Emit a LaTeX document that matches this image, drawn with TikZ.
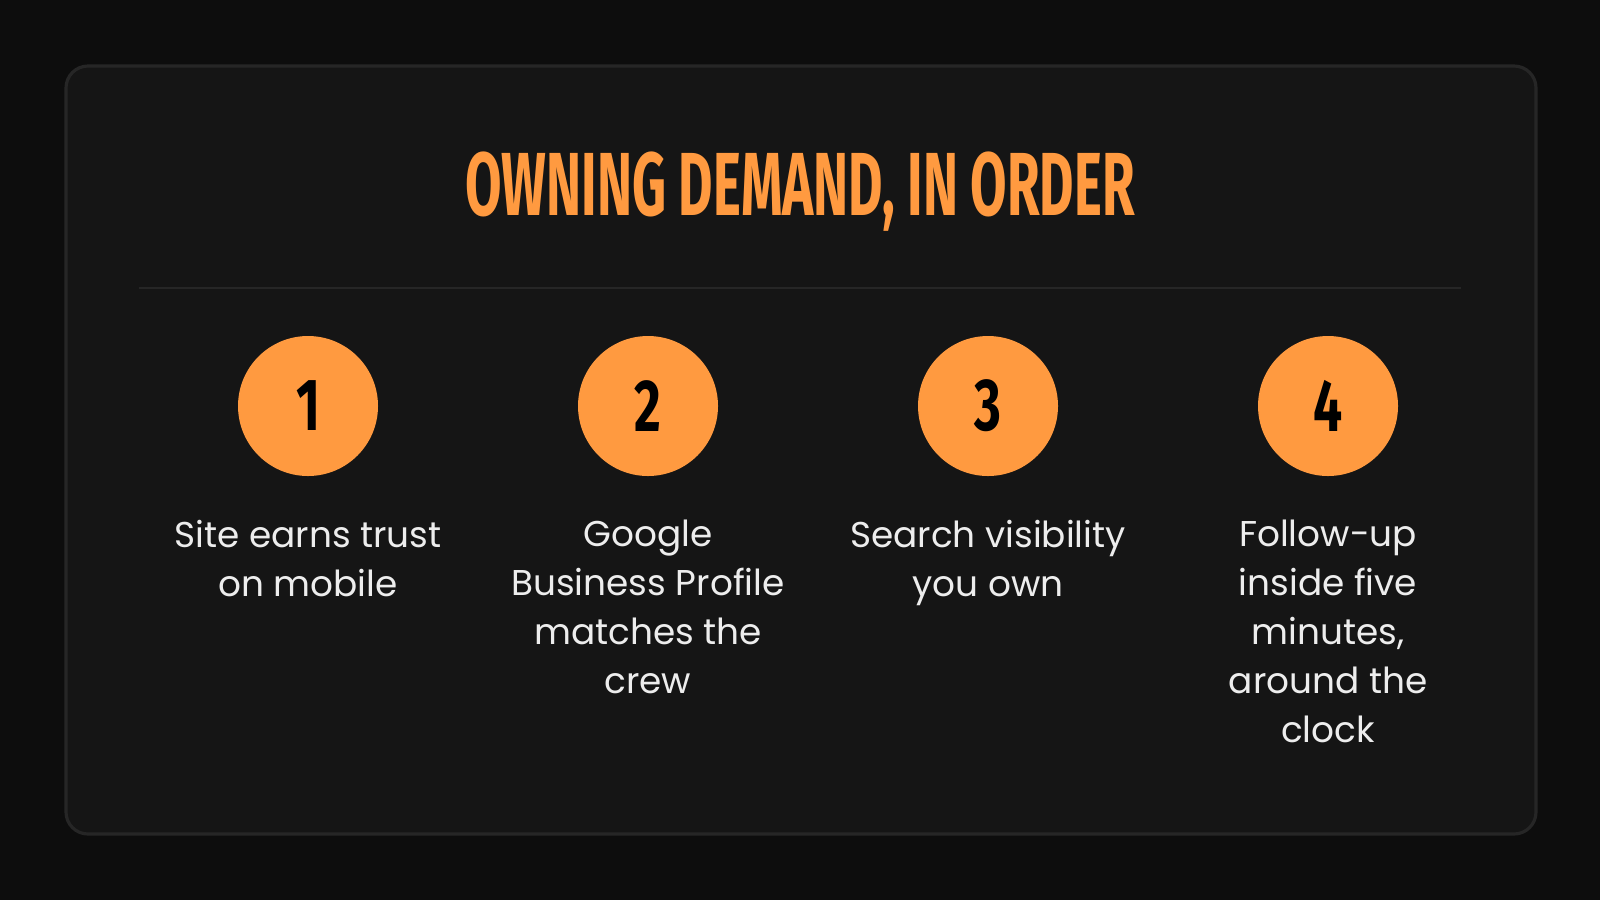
\documentclass[tikz,border=0pt]{standalone}
\usepackage{fontspec}
\setmainfont{Poppins}
\newfontfamily\titlefont[FakeStretch=0.59]{Fira Sans}
\newfontfamily\digitfont[FakeStretch=0.7]{Fira Sans}
\usetikzlibrary{positioning}
\definecolor{pagebg}{HTML}{0D0D0D}
\definecolor{cardbg}{HTML}{151515}
\definecolor{cardline}{HTML}{262626}
\definecolor{accent}{HTML}{FF9A40}
\definecolor{bodytext}{HTML}{EDEDED}
\begin{document}
\begin{tikzpicture}[
    node distance=3.4cm,
    card/.style={draw=cardline, line width=0.9pt, fill=cardbg, rounded corners=0.22cm},
    stepdot/.style={circle, fill=accent, minimum size=1.4cm, inner sep=0pt, font=\digitfont\bfseries\fontsize{21}{21}\selectfont, text=black},
    steptext/.style={text=bodytext, align=center, font=\fontsize{10.2}{13.9}\selectfont, inner sep=0pt, anchor=north}
]
% Page and card
\fill[pagebg] (0,0) rectangle (16,-9);
\useasboundingbox (0,0) rectangle (16,-9);
\draw[card] (0.66,-0.66) rectangle (15.36,-8.34);

% Title and rule
\node[text=accent, font=\titlefont\bfseries\fontsize{25.5}{26}\selectfont] (title) at (8.0,-1.92) {OWNING DEMAND, IN ORDER};
\coordinate (rule-l) at (1.39,-2.88);
\coordinate (rule-r) at (14.61,-2.88);
\draw[cardline, line width=0.8pt] (rule-l) -- (rule-r);

% Numbered steps
\node[stepdot] (c1) at (3.08,-4.06) {1};
\node[stepdot, right of=c1] (c2) {2};
\node[stepdot, right of=c2] (c3) {3};
\node[stepdot, right of=c3] (c4) {4};

% Step texts
\node[steptext, below=0.43cm of c1] (t1) {Site earns trust\\on mobile};
\node[steptext, below=0.43cm of c2] (t2) {Google\\Business Profile\\matches the\\crew};
\node[steptext, below=0.43cm of c3] (t3) {Search visibility\\you own};
\node[steptext, below=0.43cm of c4] (t4) {Follow-up\\inside five\\minutes,\\around the\\clock};

\end{tikzpicture}
\end{document}
